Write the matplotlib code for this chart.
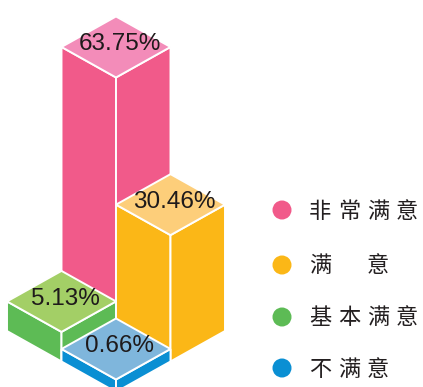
import matplotlib
matplotlib.use("Agg")
import matplotlib.pyplot as plt
from matplotlib.patches import Polygon, Circle

# datos de la encuesta de satisfaccion
categorias = ["非常满意", "满意", "基本满意", "不满意"]
valores = [63.75, 30.46, 5.13, 0.66]

# colores: caras laterales y cara superior de cada barra
color_lado = ["#F15A8A", "#FBB717", "#5DBB55", "#0A8FD3"]
color_tapa = ["#F38CB9", "#FDCE7A", "#A3CF66", "#7FB6DC"]

# celda de la rejilla isometrica (gx, gy) de cada barra
celdas = [(0, 0), (1, 0), (0, 1), (1, 1)]

# proyeccion isometrica en pixeles
X0, Y0 = 116, 270
HW, HH = 54.5, 30.5
BASE, ESCALA = 10, 3.82


def proyecta(gx, gy, z):
    return (X0 + (gx - gy) * HW, Y0 + (gx + gy) * HH - z)


def dibuja_barra(ax, gx, gy, h, lado, tapa):
    izq = (gx, gy + 1)
    frente = (gx + 1, gy + 1)
    der = (gx + 1, gy)
    atras = (gx, gy)
    cara_izq = [proyecta(*izq, 0), proyecta(*frente, 0),
                proyecta(*frente, h), proyecta(*izq, h)]
    cara_der = [proyecta(*frente, 0), proyecta(*der, 0),
                proyecta(*der, h), proyecta(*frente, h)]
    cara_sup = [proyecta(*atras, h), proyecta(*der, h),
                proyecta(*frente, h), proyecta(*izq, h)]
    for cara, c in [(cara_izq, lado), (cara_der, lado), (cara_sup, tapa)]:
        ax.add_patch(Polygon(cara, closed=True, facecolor=c,
                             edgecolor="white", linewidth=1.4,
                             joinstyle="miter"))
    # centro de la cara superior
    return proyecta(gx + 0.5, gy + 0.5, h)


fig = plt.figure(figsize=(4.23, 3.87), dpi=100)
ax = fig.add_axes([0, 0, 1, 1])
ax.set_xlim(0, 423)
ax.set_ylim(387, 0)
ax.axis("off")

# orden de dibujo: de atras hacia adelante
for i in [0, 2, 1, 3]:
    gx, gy = celdas[i]
    h = BASE + ESCALA * valores[i]
    cx, cy = dibuja_barra(ax, gx, gy, h, color_lado[i], color_tapa[i])
    ax.text(cx + 4, cy - 2.5, f"{valores[i]:.2f}%", fontsize=17.5,
            family="Liberation Sans", color="#1E1A1B",
            ha="center", va="center")

# leyenda con circulos y caracteres espaciados
leyenda_y = [210, 265, 317, 368]
columnas_x = [320, 349, 378, 407]
for i, nombre in enumerate(categorias):
    y = leyenda_y[i]
    ax.add_patch(Circle((282, y), 9.5, facecolor=color_lado[i],
                        edgecolor="none"))
    letras = list(nombre)
    if len(letras) == 2:
        posiciones = [columnas_x[0], columnas_x[2]]
    else:
        posiciones = columnas_x[:len(letras)]
    for letra, x in zip(letras, posiciones):
        ax.text(x, y + 1, letra, fontsize=16, fontweight="medium",
                family=["Noto Sans CJK SC", "DejaVu Sans"],
                color="#231F20", ha="center", va="center")

fig.savefig("out.png", dpi=100)
